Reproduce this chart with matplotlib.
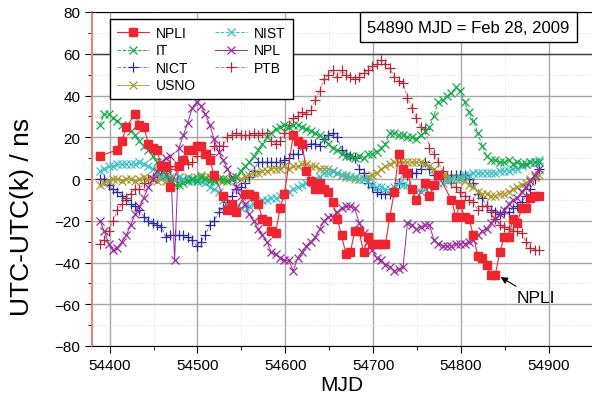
"""Time transfer comparison: UTC - UTC(k) for several labs vs MJD."""

import matplotlib

matplotlib.use("Agg")
import matplotlib.pyplot as plt
from matplotlib.ticker import MultipleLocator

plt.rcParams["font.family"] = ["Liberation Sans", "DejaVu Sans"]

# Circular T dates, every 5 days
mjd = list(range(54389, 54890, 5))

it_vals = [
    26, 31, 31, 29, 28, 26, 25, 23, 21, 18,
    16, 14, 11, 8, 5, 2, -1, -3, -3, -2,
    -1, 0, -1, 1, 0, -1, -1, 0, 0, -1,
    0, 1, 4, 6, 8, 11, 14, 17, 20, 22,
    24, 25, 26, 25, 26, 26, 25, 24, 23, 22,
    21, 19, 17, 15, 14, 12, 11, 11, 10, 11,
    10, 12, 12, 13, 15, 17, 22, 22, 21, 21,
    20, 20, 19, 21, 23, 25, 30, 37, 38, 40,
    41, 44, 42, 37, 32, 28, 22, 16, 11, 9,
    9, 8, 8, 9, 7, 8, 7, 7, 8, 8,
    8,
]
ptb_vals = [
    -31, -29, -25, -20, -15, -12, -9, -7, -5, -5,
    -2, 0, 1, 2, 3, 4, 5, 6, 7, 9,
    7, 8, 11, 14, 14, 12, 16, 16, 16, 20,
    21, 22, 21, 21, 21, 22, 21, 22, 22, 18,
    17, 18, 22, 26, 29, 30, 32, 31, 33, 38,
    42, 48, 50, 52, 49, 52, 50, 49, 48, 49,
    51, 52, 54, 55, 57, 55, 53, 49, 47, 46,
    39, 34, 29, 25, 24, 15, 12, 8, 4, 1,
    -2, -4, -6, -8, -10, -11, -15, -13, -13, -16,
    -19, -22, -23, -24, -25, -25, -26, -30, -33, -34,
    -34,
]
npl_vals = [
    -20, -25, -31, -34, -33, -30, -27, -22, -17, -13,
    -9, -4, 0, 4, 8, 10, 11, -39, 15, 21,
    27, 34, 37, 35, 31, 26, 19, 13, 9, 5,
    1, -4, -8, -12, -17, -20, -24, -27, -30, -35,
    -36, -38, -39, -39, -44, -38, -35, -32, -30, -28,
    -24, -20, -18, -18, -16, -14, -13, -13, -14, -21,
    -26, -30, -34, -38, -39, -41, -42, -44, -43, -42,
    -21, -22, -24, -23, -22, -22, -29, -31, -32, -32,
    -32, -31, -31, -31, -30, -29, -27, -25, -24, -21,
    -19, -17, -15, -12, -10, -9, -6, -4, -1, 2,
    5,
]
nict_vals = [
    0, 0, -3, -5, -6, -8, -10, -12, -13, -15,
    -18, -20, -21, -22, -23, -28, -27, -27, -27, -27,
    -28, -29, -32, -30, -27, -22, -20, -16, -14, -11,
    -8, -5, -4, -2, 1, 4, 8, 8, 8, 8,
    8, 8, 9, 10, 12, 12, 15, 16, 17, 17,
    16, 19, 21, 22, 20, 14, 12, 11, 10, 5,
    3, -2, -4, -6, -7, -7, -7, -6, -2, 3,
    2, 3, 3, 5, 8, 5, 2, 2, 1, 1,
    2, 2, 2, 2, 0, -2, -7, -9, -13, -15,
    -16, -17, -16, -16, -14, -13, -11, -8, -5, 0,
    5,
]
nist_vals = [
    4, 5, 6, 6, 7, 7, 7, 7, 7, 8,
    7, 6, 5, 3, 2, 1, 1, 0, 1, 0,
    0, -1, 0, -1, -2, -4, -5, -6, -10, -12,
    -13, -13, -14, -13, -13, -12, -11, -10, -10, -9,
    -9, -8, -7, -6, -5, -4, -3, -2, -1, 0,
    1, 3, 3, 4, 3, 2, 2, 1, 1, 0,
    0, -1, -3, -4, -4, -5, -5, -4, -2, -3,
    -3, -5, -6, -6, -5, -4, -3, -2, -2, -1,
    0, 0, 1, 2, 2, 3, 3, 3, 3, 3,
    3, 4, 4, 4, 5, 5, 6, 7, 8, 8,
    9,
]
usno_vals = [
    -3, -2, -1, 0, 0, -1, 0, 0, -1, 0,
    1, 0, 0, -1, 0, -1, 0, 0, 1, 0,
    1, 0, 1, 2, 1, 1, 0, 0, -1, 0,
    0, 1, 0, 1, 2, 3, 3, 4, 4, 5,
    5, 5, 6, 5, 6, 6, 7, 7, 6, 6,
    5, 5, 5, 4, 3, 2, 1, 1, 0, 0,
    0, 1, 2, 3, 5, 6, 7, 8, 8, 8,
    8, 8, 8, 8, 7, 6, 5, 3, 2, 1,
    0, 0, 0, -1, -3, -4, -6, -7, -7, -8,
    -8, -7, -7, -6, -5, -4, -3, -2, 0, 1,
    2,
]

# NPLI has gaps, so it keeps its own dates
npli_mjd = [
    54389, 54409, 54414, 54419, 54429, 54434, 54439, 54444, 54449, 54454,
    54459, 54464, 54469, 54479, 54484, 54489, 54494, 54499, 54504, 54509,
    54514, 54519, 54529, 54534, 54539, 54544, 54554, 54559, 54564, 54569,
    54574, 54579, 54584, 54589, 54594, 54599, 54609, 54614, 54619, 54624,
    54629, 54634, 54639, 54644, 54649, 54654, 54659, 54664, 54669, 54674,
    54679, 54684, 54689, 54694, 54699, 54704, 54709, 54714, 54719, 54724,
    54729, 54734, 54739, 54744, 54749, 54759, 54764, 54769, 54774, 54789,
    54794, 54799, 54804, 54809, 54814, 54819, 54824, 54829, 54834, 54839,
    54844, 54849, 54854, 54859, 54864, 54869, 54874, 54879, 54884, 54889,
]
npli_vals = [
    11, 14, 18, 25, 31, 26, 25, 17, 15, 14,
    6, 6, -4, 6, 9, 14, 14, 16, 16, 12,
    9, 2, -8, -15, -12, -16, -7, -7, -8, -12,
    -19, -20, -25, -26, -14, -7, 21, 18, 17, 4,
    -1, -5, -2, -5, -6, -11, -19, -27, -36, -35,
    -25, -25, -35, -28, -31, -31, -31, -31, -18, -6,
    12, 5, 3, -5, -10, -2, -8, -3, 2, -10,
    -18, -12, -18, -19, -27, -37, -38, -41, -46, -46,
    -35, -28, -28, -19, -21, -14, -14, -9, -8, -8,
]


def main() -> None:
    fig = plt.figure(figsize=(5.92, 4.02), dpi=100)
    ax = fig.add_axes([92 / 592, 55 / 402, 500 / 592, 334 / 402])

    series = [
        ("NICT", mjd, nict_vals, "+", "#2b2b9c", "#7b7bc8", "--", 7.5),
        ("PTB", mjd, ptb_vals, "+", "#b0283a", "#d88080", "--", 7.5),
        ("USNO", mjd, usno_vals, "x", "#a8982c", "#b8a850", "-", 6.0),
        ("NIST", mjd, nist_vals, "x", "#38c0c4", "#38c0c4", "--", 6.0),
        ("NPL", mjd, npl_vals, "x", "#9a2c9e", "#9a2c9e", "-", 6.0),
        ("IT", mjd, it_vals, "x", "#14aa48", "#14aa48", "--", 6.0),
    ]
    handles = {}
    for name, x, y, marker, mcolor, lcolor, ls, ms in series:
        (line,) = ax.plot(x, y, linestyle=ls, color=lcolor, linewidth=0.7, marker=marker,
                          markersize=ms, markeredgecolor=mcolor, markerfacecolor=mcolor,
                          markeredgewidth=0.9, label=name)
        handles[name] = line
    (line,) = ax.plot(npli_mjd, npli_vals, linestyle="-", color="#ee2530", linewidth=0.8,
                      marker="s", markersize=6, markeredgecolor="#ee2530",
                      markerfacecolor="#ee2530", label="NPLI", zorder=3)
    handles["NPLI"] = line

    ax.set_xlim(54380, 54949)
    ax.set_ylim(-80, 80)
    ax.xaxis.set_major_locator(MultipleLocator(100))
    ax.xaxis.set_minor_locator(MultipleLocator(50))
    ax.yaxis.set_major_locator(MultipleLocator(20))
    ax.yaxis.set_minor_locator(MultipleLocator(10))
    ax.grid(True, which="major", color="#a8a8a8", linewidth=1.0)
    ax.grid(True, which="minor", color="#d8d8d8", linewidth=0.6, linestyle=":")
    ax.axhline(60, color="#404040", linewidth=1.0, zorder=1)
    ax.set_axisbelow(True)
    ax.tick_params(which="both", direction="out", labelsize=11, top=False, right=False)
    ax.tick_params(which="major", length=5)
    ax.tick_params(which="minor", length=3)
    ax.spines["left"].set_color("#f08080")
    ax.spines["left"].set_linewidth(1.5)
    ax.spines["right"].set_visible(False)

    ax.set_xlabel("MJD", fontsize=15, labelpad=2)
    ax.set_ylabel("UTC-UTC(k) / ns", fontsize=19)
    ax.yaxis.set_label_coords(-0.116, 0.39)

    order = ["NPLI", "IT", "NICT", "USNO", "NIST", "NPL", "PTB"]
    leg = ax.legend([handles[n] for n in order], order, ncol=2, loc="upper left",
                    bbox_to_anchor=(0.036, 0.979), borderaxespad=0, fontsize=10,
                    frameon=True, fancybox=False, edgecolor="black", framealpha=1,
                    handlelength=2.3, handletextpad=0.5, columnspacing=1.4,
                    labelspacing=0.25, borderpad=0.5)
    leg.get_frame().set_linewidth(1.0)

    ax.text(0.753, 0.954, "54890 MJD = Feb 28, 2009", transform=ax.transAxes,
            ha="center", va="center", fontsize=12,
            bbox=dict(boxstyle="square,pad=0.45", facecolor="white", edgecolor="black", linewidth=1.0))

    ax.annotate("NPLI", xy=(54845, -47), xytext=(54863, -57), fontsize=12.5,
                ha="left", va="center",
                arrowprops=dict(arrowstyle="-|>", color="black", linewidth=0.8,
                                shrinkA=2, shrinkB=0, mutation_scale=10))

    fig.savefig("out.png", dpi=100)
    plt.close(fig)


if __name__ == "__main__":
    main()
